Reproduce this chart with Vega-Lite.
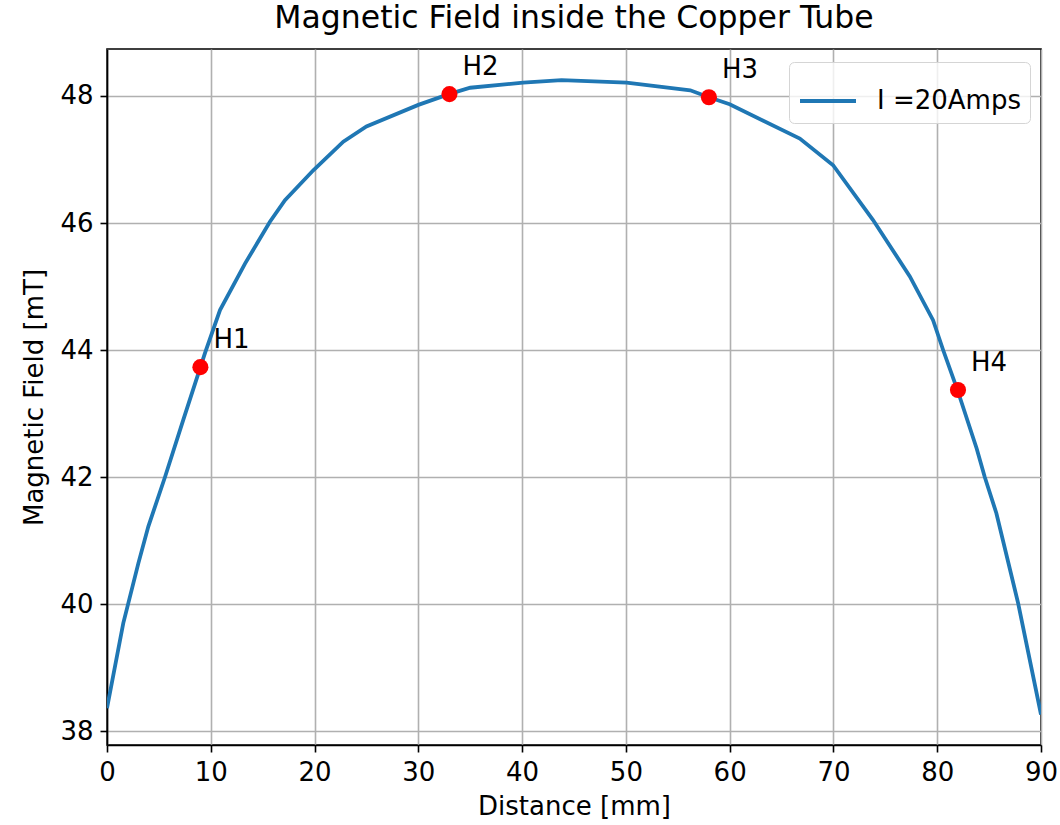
{
  "$schema": "https://vega.github.io/schema/vega-lite/v6.json",
  "width": 934,
  "height": 696,
  "autosize": {"type": "none"},
  "padding": {"left": 107, "top": 49, "right": 19, "bottom": 80},
  "background": "white",
  "title": {"text": "Magnetic Field inside the Copper Tube", "font": "DejaVu Sans", "fontSize": 31.5, "fontWeight": "normal", "color": "black", "offset": 15},
  "config": {
    "font": "DejaVu Sans",
    "view": {"stroke": "black", "strokeWidth": 1.6},
    "axis": {
      "grid": true, "gridColor": "#b0b0b0", "gridWidth": 1.6,
      "domainColor": "black", "domainWidth": 1.6,
      "tickColor": "black", "tickWidth": 1.6, "tickSize": 7,
      "labelFont": "DejaVu Sans", "labelFontSize": 26, "labelColor": "black", "labelPadding": 7, "labelFlush": false,
      "titleFont": "DejaVu Sans", "titleFontSize": 26, "titleFontWeight": "normal", "titleColor": "black"
    }
  },
  "layer": [
    {
      "data": {"values": [
        {"x": 0, "y": 38.36, "series": "I =20Amps"},
        {"x": 1.57, "y": 39.7, "series": "I =20Amps"},
        {"x": 2.05, "y": 40.01, "series": "I =20Amps"},
        {"x": 3.02, "y": 40.64, "series": "I =20Amps"},
        {"x": 3.98, "y": 41.22, "series": "I =20Amps"},
        {"x": 5.59, "y": 42.0, "series": "I =20Amps"},
        {"x": 7.35, "y": 42.9, "series": "I =20Amps"},
        {"x": 9.44, "y": 43.95, "series": "I =20Amps"},
        {"x": 10.89, "y": 44.63, "series": "I =20Amps"},
        {"x": 13.3, "y": 45.36, "series": "I =20Amps"},
        {"x": 15.7, "y": 46.02, "series": "I =20Amps"},
        {"x": 17.15, "y": 46.36, "series": "I =20Amps"},
        {"x": 19.88, "y": 46.83, "series": "I =20Amps"},
        {"x": 22.77, "y": 47.28, "series": "I =20Amps"},
        {"x": 25.0, "y": 47.52, "series": "I =20Amps"},
        {"x": 30.0, "y": 47.86, "series": "I =20Amps"},
        {"x": 32.95, "y": 48.03, "series": "I =20Amps"},
        {"x": 35.0, "y": 48.13, "series": "I =20Amps"},
        {"x": 40.1, "y": 48.21, "series": "I =20Amps"},
        {"x": 43.8, "y": 48.25, "series": "I =20Amps"},
        {"x": 50.06, "y": 48.21, "series": "I =20Amps"},
        {"x": 56.2, "y": 48.09, "series": "I =20Amps"},
        {"x": 58.0, "y": 47.98, "series": "I =20Amps"},
        {"x": 60.0, "y": 47.87, "series": "I =20Amps"},
        {"x": 66.76, "y": 47.33, "series": "I =20Amps"},
        {"x": 69.97, "y": 46.91, "series": "I =20Amps"},
        {"x": 73.8, "y": 46.05, "series": "I =20Amps"},
        {"x": 77.36, "y": 45.16, "series": "I =20Amps"},
        {"x": 79.6, "y": 44.47, "series": "I =20Amps"},
        {"x": 80.57, "y": 44.0, "series": "I =20Amps"},
        {"x": 81.95, "y": 43.37, "series": "I =20Amps"},
        {"x": 83.8, "y": 42.45, "series": "I =20Amps"},
        {"x": 84.58, "y": 42.0, "series": "I =20Amps"},
        {"x": 85.7, "y": 41.43, "series": "I =20Amps"},
        {"x": 87.8, "y": 40.01, "series": "I =20Amps"},
        {"x": 90, "y": 38.26, "series": "I =20Amps"}
      ]},
      "mark": {"type": "line", "strokeWidth": 3.8, "clip": true},
      "encoding": {
        "x": {"field": "x", "type": "quantitative", "scale": {"domain": [0, 90], "nice": false, "zero": false}, "axis": {"title": "Distance [mm]", "values": [0,10,20,30,40,50,60,70,80,90], "format": "d", "titleY": 48}},
        "y": {"field": "y", "type": "quantitative", "scale": {"domain": [37.78, 48.74], "nice": false, "zero": false}, "axis": {"title": "Magnetic Field [mT]", "values": [38,40,42,44,46,48], "format": "d", "titleX": -60}},
        "stroke": {"field": "series", "type": "nominal", "scale": {"range": ["#1f77b4"]},
          "legend": {"title": null, "orient": "none", "legendX": 682, "legendY": 13, "symbolType": "stroke", "symbolSize": 3136, "symbolStrokeWidth": 3.8, "labelFontSize": 26, "labelFont": "DejaVu Sans", "labelColor": "black", "fillColor": "rgba(255,255,255,0.8)", "strokeColor": "#d5d5d5", "cornerRadius": 5, "padding": 9, "labelOffset": 19, "symbolOffset": 0}}
      }
    },
    {
      "data": {"values": [
        {"x": 9, "y": 43.73, "label": "H1"},
        {"x": 33, "y": 48.03, "label": "H2"},
        {"x": 58, "y": 47.98, "label": "H3"},
        {"x": 82, "y": 43.37, "label": "H4"}
      ]},
      "layer": [
        {"mark": {"type": "point", "filled": true, "color": "red", "opacity": 1, "size": 260},
         "encoding": {"x": {"field": "x", "type": "quantitative"}, "y": {"field": "y", "type": "quantitative"}}},
        {"mark": {"type": "text", "align": "left", "baseline": "middle", "dx": 13, "dy": -27, "fontSize": 26, "font": "DejaVu Sans", "color": "black"},
         "encoding": {"x": {"field": "x", "type": "quantitative"}, "y": {"field": "y", "type": "quantitative"}, "text": {"field": "label"}}}
      ]
    }
  ]
}
